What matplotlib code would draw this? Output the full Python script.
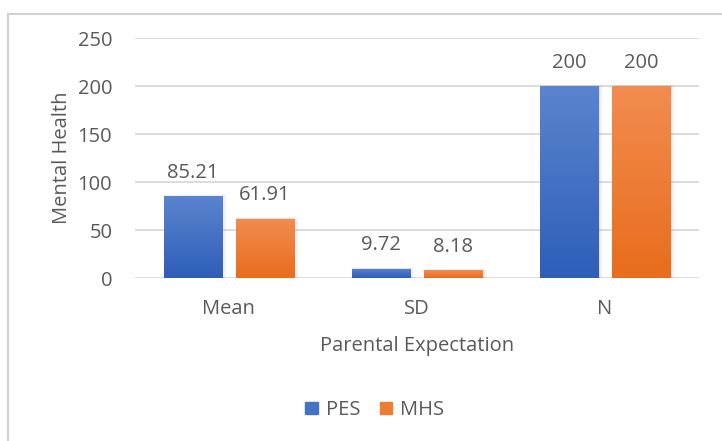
import numpy as np
import matplotlib
matplotlib.use("Agg")
import matplotlib.pyplot as plt
from matplotlib.patches import Rectangle
from matplotlib.lines import Line2D
import matplotlib.colors as mcolors

categories = ["Mean", "SD", "N"]
series_names = ["PES", "MHS"]
pes_values = [85.21, 9.72, 200]
mhs_values = [61.91, 8.18, 200]
value_labels_pes = ["85.21", "9.72", "200"]
value_labels_mhs = ["61.91", "8.18", "200"]
yticks = [0, 50, 100, 150, 200, 250]

plt.rcParams["font.family"] = ["Open Sans", "DejaVu Sans"]
text_color = "#595959"
grid_color = "#d9d9d9"
fs = 14.5

fig = plt.figure(figsize=(7.22, 4.41), dpi=100)
fig.patch.set_facecolor("white")

# outer chart frame (left and top edges visible)
fig.add_artist(Line2D([8 / 722, 8 / 722], [0, 1 - 14 / 441], color="#d0d0d0", lw=1.5))
fig.add_artist(Line2D([8 / 722, 1], [1 - 14 / 441, 1 - 14 / 441], color="#d0d0d0", lw=1.5))

ax = fig.add_axes([134.5 / 722, 1 - 278 / 441, (699 - 134.5) / 722, (278 - 38) / 441])
ax.set_xlim(-0.5, 2.5)
ax.set_ylim(0, 250)
for s in ax.spines.values():
    s.set_visible(False)
ax.set_yticks(yticks)
ax.yaxis.grid(True, color=grid_color, lw=1.3)
ax.set_axisbelow(True)
ax.tick_params(axis="both", length=0, labelsize=fs, labelcolor=text_color)
ax.tick_params(axis="y", pad=16)
ax.tick_params(axis="x", pad=15)
ax.set_xticks(range(len(categories)))
ax.set_xticklabels(categories)

bar_w = 58 / 188
offset = 36 / 188

grads = {
    "PES": ("#5a84cf", "#2f5eb8"),
    "MHS": ("#f28c50", "#e86d1c"),
}

def draw_bars(xs, vals, name, labels):
    top_c, bot_c = grads[name]
    cmap = mcolors.LinearSegmentedColormap.from_list(name, [bot_c, top_c])
    bars = ax.bar(xs, vals, width=bar_w, color=top_c, zorder=3)
    for b, v, lab in zip(bars, vals, labels):
        x0, w, h = b.get_x(), b.get_width(), b.get_height()
        # soft drop shadow
        for k, a in enumerate([0.06, 0.04, 0.025]):
            d = (k + 1) * 0.006
            ax.add_patch(Rectangle((x0 + d * 0.5, 0), w + d, h + 0.4 * (k + 1),
                                   facecolor="black", alpha=a, lw=0, zorder=2))
        grad = np.linspace(0, 1, 256).reshape(-1, 1)
        im = ax.imshow(grad, cmap=cmap, origin="lower", aspect="auto",
                       extent=(x0, x0 + w, 0, h), zorder=4)
        im.set_clip_path(b)
        ax.annotate(lab, (x0 + w / 2, h), xytext=(0, 9.5), textcoords="offset points",
                    ha="center", va="bottom", fontsize=fs, color=text_color, zorder=5)
    return bars

x = np.arange(len(categories))
b1 = draw_bars(x - offset, pes_values, "PES", value_labels_pes)
b2 = draw_bars(x + offset, mhs_values, "MHS", value_labels_mhs)
ax.set_xlim(-0.5, 2.5)
ax.set_ylim(0, 250)

ax.set_ylabel("Mental Health", fontsize=fs, color=text_color, labelpad=4)
ax.set_xlabel("Parental Expectation", fontsize=fs, color=text_color, labelpad=12)

handles = [Rectangle((0, 0), 1, 1, color="#4472c4"), Rectangle((0, 0), 1, 1, color="#ed7d31")]
leg = fig.legend(handles, series_names, loc="center", bbox_to_anchor=(375 / 722, 1 - 410 / 441),
                 ncol=2, frameon=False, fontsize=fs, handlelength=0.6, handleheight=0.6,
                 handletextpad=0.4, columnspacing=1.0)
for t in leg.get_texts():
    t.set_color(text_color)

fig.savefig("out.png", dpi=100)
